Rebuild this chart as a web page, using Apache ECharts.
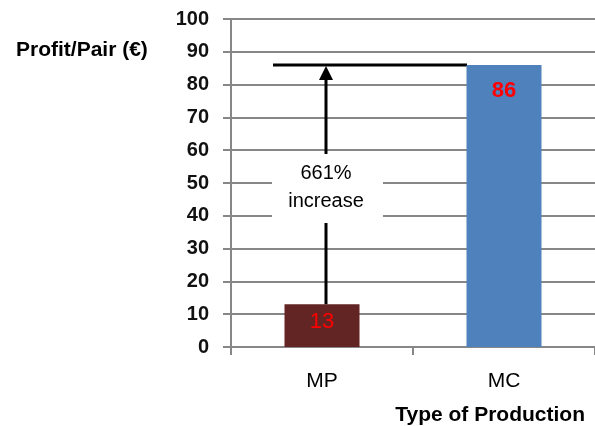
<!DOCTYPE html>
<html><head><meta charset="utf-8">
<script src="https://cdn.jsdelivr.net/npm/echarts@6/dist/echarts.min.js"></script>
<style>html,body{margin:0;padding:0;background:#fff}#c{width:595px;height:426px}</style>
</head><body><div id="c"></div>
<script>
var categories = ['MP', 'MC'];
var profitValues = [13, 86];
var barColors = ['#632523', '#4F81BD'];
var yTicks = {min: 0, max: 100, interval: 10};
var yAxisTitle = 'Profit/Pair (€)';
var xAxisTitle = 'Type of Production';
var annotationText = '661%\nincrease';

var FONT = '"Liberation Sans", Arial, sans-serif';
var chart = echarts.init(document.getElementById('c'));
var gridCol = '#878787';
chart.setOption({
  animation: false,
  backgroundColor: '#fff',
  grid: {left: 231, top: 19, width: 366, height: 328},
  title: [
    {text: yAxisTitle, left: 11, top: 35, textStyle: {fontFamily: FONT, fontSize: 21, fontWeight: 'bold', color: '#000'}},
    {text: xAxisTitle, right: 5, top: 400, textStyle: {fontFamily: FONT, fontSize: 21, fontWeight: 'bold', color: '#000'}}
  ],
  xAxis: {
    type: 'category', data: categories,
    axisLine: {lineStyle: {color: gridCol, width: 2}},
    axisTick: {show: true, length: 8, interval: 0, lineStyle: {color: gridCol, width: 2}},
    axisLabel: {margin: 24, fontFamily: FONT, fontSize: 21, color: '#000'}
  },
  yAxis: {
    type: 'value', min: yTicks.min, max: yTicks.max, interval: yTicks.interval,
    axisLine: {show: true, lineStyle: {color: gridCol, width: 2}},
    axisTick: {show: true, length: 8, lineStyle: {color: gridCol, width: 2}},
    splitLine: {show: true, lineStyle: {color: gridCol, width: 2}},
    axisLabel: {margin: 22, fontFamily: FONT, fontSize: 20, fontWeight: 'bold', color: '#111'}
  },
  series: [{
    type: 'bar', barWidth: 75, z: 5,
    data: profitValues.map(function (v, i) {
      return {value: v, itemStyle: {color: barColors[i]},
        label: {distance: i === 0 ? 7 : 15, fontWeight: i === 0 ? 'normal' : 'bold'}};
    }),
    label: {show: true, position: 'insideTop', color: '#FF0000', fontFamily: FONT, fontSize: 22}
  }]
});

function drawAnnotation() {
  var pTop = chart.convertToPixel({gridIndex: 0}, [categories[0], profitValues[1]]);
  var pBase = chart.convertToPixel({gridIndex: 0}, [categories[0], profitValues[0]]);
  var pEnd = chart.convertToPixel({gridIndex: 0}, [categories[1], profitValues[1]]);
  var ax = pTop[0] + 4;
  var yTop = pTop[1];
  chart.setOption({
    graphic: [
      {type: 'line', z: 3, shape: {x1: pTop[0] - 49, y1: yTop, x2: pEnd[0] - 37, y2: yTop}, style: {stroke: '#000', lineWidth: 3}},
      {type: 'line', z: 3, shape: {x1: ax, y1: pBase[1], x2: ax, y2: yTop + 12}, style: {stroke: '#000', lineWidth: 3}},
      {type: 'polygon', z: 3, shape: {points: [[ax, yTop + 1], [ax - 7, yTop + 15], [ax + 7, yTop + 15]]}, style: {fill: '#000'}},
      {type: 'rect', z: 4, shape: {x: ax - 54, y: 154, width: 111, height: 69}, style: {fill: '#fff'}},
      {type: 'text', z: 6, x: ax, y: 187, style: {text: annotationText, align: 'center', verticalAlign: 'middle',
        fontFamily: FONT, fontSize: 20, lineHeight: 28, fill: '#000'}}
    ]
  });
}
drawAnnotation();
</script>
</body></html>
